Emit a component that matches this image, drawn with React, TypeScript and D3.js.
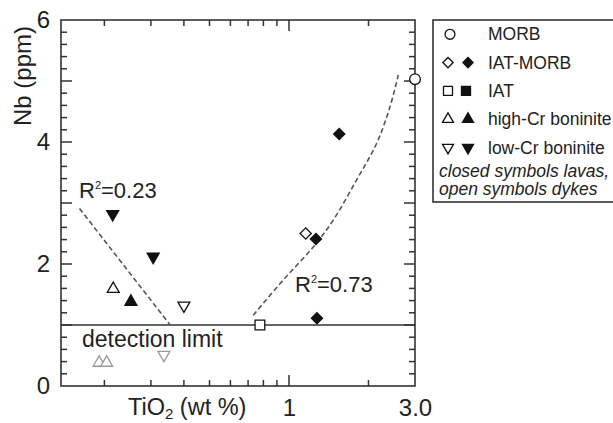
import React, { useEffect, useRef } from "react";
import * as d3 from "d3";

// TiO2 (wt %) vs Nb (ppm) values
const morbX = [3.0];
const morbY = [5.03];
const iatMorbDykeX = [1.157];
const iatMorbDykeY = [2.5];
const iatMorbLavaX = [1.55, 1.265, 1.276];
const iatMorbLavaY = [4.13, 2.41, 1.11];
const iatDykeX = [0.776];
const iatDykeY = [1.0];
const highCrDykeX = [0.216];
const highCrDykeY = [1.59];
const highCrLavaX = [0.252];
const highCrLavaY = [1.38];
const lowCrDykeX = [0.4];
const lowCrDykeY = [1.32];
const lowCrLavaX = [0.215, 0.306];
const lowCrLavaY = [2.82, 2.12];
// below detection limit (grey)
const belowHighCrX = [0.191, 0.204];
const belowHighCrY = [0.38, 0.38];
const belowLowCrX = [0.336];
const belowLowCrY = [0.51];

// regression lines
const fitLowX = [0.161, 0.355];
const fitLowY = [2.91, 1.0];
const fitHighX = [0.732, 0.952, 1.236, 1.471, 1.804, 2.148, 2.413, 2.594];
const fitHighY = [1.16, 1.74, 2.28, 2.72, 3.38, 3.98, 4.58, 5.1];

const detectionLimit = 1;

const xMinor = [0.2, 0.3, 0.4, 0.5, 0.6, 0.7, 0.8, 0.9, 2];
const xMajor = [1];
const xLabels = [1, 3];
const yMinor = [0.2, 0.4, 0.6, 0.8, 1.2, 1.4, 1.6, 1.8, 2.2, 2.4, 2.6, 2.8, 3.2, 3.4, 3.6, 3.8, 4.2, 4.4, 4.6, 4.8, 5.2, 5.4, 5.6, 5.8];
const yMajor = [1, 2, 3, 4, 5];
const yLabels = [0, 2, 4, 6];

const legendLabels = ["MORB", "IAT-MORB", "IAT", "high-Cr boninite", "low-Cr boninite"];
const legendShapes = ["circle", "diamond", "square", "up", "down"];
const legendHasClosed = [false, true, true, true, true];
const noteLines = ["closed symbols lavas,", "open symbols dykes"];

const FONT = "'Liberation Sans', Arial, Helvetica, sans-serif";
const INK = "#222";

const symbolPath = (shape: string, scale = 1) => {
  switch (shape) {
    case "circle":
      return d3.symbol(d3.symbolCircle, 90 * scale)();
    case "diamond":
      return d3.symbol(d3.symbolSquare, 62 * scale)();
    case "square":
      return d3.symbol(d3.symbolSquare, 95 * scale)();
    default:
      return d3.symbol(d3.symbolTriangle, 62 * scale)();
  }
};
const symbolRotate = (shape: string) =>
  shape === "diamond" ? 45 : shape === "down" ? 180 : 0;

export default function App() {
  const ref = useRef<SVGSVGElement>(null);

  useEffect(() => {
    const width = 613;
    const height = 423;
    const m = { top: 20, right: 198, bottom: 37, left: 61 };

    const x = d3.scaleLog([0.137, 3], [m.left, width - m.right]);
    const y = d3.scaleLinear([0, 6], [height - m.bottom, m.top]);
    const [x0, x1] = x.range();
    const [y0, y1] = y.range();

    const svg = d3.select(ref.current);
    svg.selectAll("*").remove();

    svg.append("rect").attr("width", width).attr("height", height).attr("fill", "#fff");

    // inward ticks on all four sides
    const ticks = svg.append("g").attr("stroke", "#333").attr("stroke-width", 1.5);
    const xTicks = (vals: number[], len: number) => {
      ticks.append("g").selectAll("line").data(vals).join("line")
        .attr("x1", (d) => x(d)).attr("x2", (d) => x(d))
        .attr("y1", y0).attr("y2", y0 - len);
      ticks.append("g").selectAll("line").data(vals).join("line")
        .attr("x1", (d) => x(d)).attr("x2", (d) => x(d))
        .attr("y1", y1).attr("y2", y1 + len);
    };
    const yTicks = (vals: number[], len: number) => {
      ticks.append("g").selectAll("line").data(vals).join("line")
        .attr("y1", (d) => y(d)).attr("y2", (d) => y(d))
        .attr("x1", x0).attr("x2", x0 + len);
      ticks.append("g").selectAll("line").data(vals).join("line")
        .attr("y1", (d) => y(d)).attr("y2", (d) => y(d))
        .attr("x1", x1).attr("x2", x1 - len);
    };
    xTicks(xMinor, 6);
    xTicks(xMajor, 11);
    yTicks(yMinor, 6);
    yTicks(yMajor, 11);

    // tick labels
    svg.append("g")
      .attr("transform", `translate(0,${y0})`)
      .call(d3.axisBottom(x).tickValues(xLabels).tickSize(0).tickPadding(13)
        .tickFormat((d: any) => (d === 3 ? "3.0" : String(d))))
      .call((g: any) => g.select(".domain").remove())
      .call((g: any) => g.selectAll(".tick text")
        .attr("font-size", 24).attr("font-family", FONT).attr("fill", INK));

    svg.append("g")
      .attr("transform", `translate(${x0},0)`)
      .call(d3.axisLeft(y).tickValues(yLabels).tickSize(0).tickPadding(11)
        .tickFormat((d: any) => String(d)))
      .call((g: any) => g.select(".domain").remove())
      .call((g: any) => g.selectAll(".tick text")
        .attr("font-size", 24).attr("font-family", FONT).attr("fill", INK));

    // frame
    svg.append("rect")
      .attr("x", x0).attr("y", y1)
      .attr("width", x1 - x0).attr("height", y0 - y1)
      .attr("fill", "none").attr("stroke", "#333").attr("stroke-width", 1.6);

    // detection limit
    svg.append("line")
      .attr("x1", x0).attr("x2", x1)
      .attr("y1", y(detectionLimit)).attr("y2", y(detectionLimit))
      .attr("stroke", "#333").attr("stroke-width", 1.6);

    // regression lines
    const fit = (xs: number[], ys: number[], curve: any) => {
      const line = d3.line<number>()
        .x((i) => x(xs[i]))
        .y((i) => y(ys[i]))
        .curve(curve);
      svg.append("path")
        .attr("d", line(d3.range(xs.length)))
        .attr("fill", "none")
        .attr("stroke", "#555")
        .attr("stroke-width", 1.6)
        .attr("stroke-dasharray", "5 3");
    };
    fit(fitLowX, fitLowY, d3.curveLinear);
    fit(fitHighX, fitHighY, d3.curveCatmullRom);

    // points
    const points = (xs: number[], ys: number[], shape: string, filled: boolean, color = "#111") => {
      svg.append("g")
        .selectAll("path")
        .data(d3.range(xs.length))
        .join("path")
        .attr("d", symbolPath(shape))
        .attr("transform", (i) => `translate(${x(xs[i])},${y(ys[i])}) rotate(${symbolRotate(shape)})`)
        .attr("fill", filled ? color : "#fff")
        .attr("stroke", color)
        .attr("stroke-width", 1.3);
    };
    points(belowHighCrX, belowHighCrY, "up", false, "#999");
    points(belowLowCrX, belowLowCrY, "down", false, "#999");
    points(highCrDykeX, highCrDykeY, "up", false);
    points(highCrLavaX, highCrLavaY, "up", true);
    points(lowCrDykeX, lowCrDykeY, "down", false);
    points(lowCrLavaX, lowCrLavaY, "down", true);
    points(iatDykeX, iatDykeY, "square", false);
    points(iatMorbDykeX, iatMorbDykeY, "diamond", false);
    points(iatMorbLavaX, iatMorbLavaY, "diamond", true);
    points(morbX, morbY, "circle", false);

    // annotations
    const rLabel = (px: number, py: number, value: string) => {
      const t = svg.append("text")
        .attr("x", px).attr("y", py)
        .attr("font-size", 22).attr("font-family", FONT).attr("fill", INK);
      t.append("tspan").text("R");
      t.append("tspan").attr("font-size", 11).attr("dy", -9).text("2");
      t.append("tspan").attr("dy", 9).text(`=${value}`);
    };
    rLabel(79, 198, "0.23");
    rLabel(295, 292, "0.73");

    svg.append("text")
      .attr("x", 82).attr("y", 347)
      .attr("font-size", 23).attr("font-family", FONT).attr("fill", INK)
      .text("detection limit");

    // axis titles
    const xt = svg.append("text")
      .attr("x", 128).attr("y", 415)
      .attr("font-size", 23.5).attr("font-family", FONT).attr("fill", INK);
    xt.append("tspan").text("TiO");
    xt.append("tspan").attr("font-size", 15).attr("dy", 4).text("2");
    xt.append("tspan").attr("dy", -4).text(" (wt %)");

    svg.append("text")
      .attr("transform", "translate(31,76) rotate(-90)")
      .attr("text-anchor", "middle")
      .attr("font-size", 24).attr("font-family", FONT).attr("fill", INK)
      .text("Nb (ppm)");

    // legend
    const lg = svg.append("g");
    lg.append("rect")
      .attr("x", 433).attr("y", 20).attr("width", 190).attr("height", 182)
      .attr("fill", "#fff").attr("stroke", "#333").attr("stroke-width", 1.6);

    const rowY = (i: number) => 40.3 + i * 28.3;
    legendLabels.forEach((label, i) => {
      const shape = legendShapes[i];
      const cy = rowY(i) - 6;
      lg.append("path")
        .attr("d", symbolPath(shape, 0.85))
        .attr("transform", `translate(${shape === "circle" ? 450 : 448},${cy}) rotate(${symbolRotate(shape)})`)
        .attr("fill", "#fff").attr("stroke", "#111").attr("stroke-width", 1.3);
      if (legendHasClosed[i]) {
        lg.append("path")
          .attr("d", symbolPath(shape, 0.85))
          .attr("transform", `translate(${shape === "square" ? 466 : 468},${cy}) rotate(${symbolRotate(shape)})`)
          .attr("fill", "#111").attr("stroke", "#111").attr("stroke-width", 1.3);
      }
      lg.append("text")
        .attr("x", 488).attr("y", rowY(i))
        .attr("font-size", 17.5).attr("font-family", FONT).attr("fill", INK)
        .text(label);
    });
    noteLines.forEach((line, i) => {
      lg.append("text")
        .attr("x", 439).attr("y", 176.7 + i * 18.3)
        .attr("font-size", 17.5).attr("font-style", "italic")
        .attr("font-family", FONT).attr("fill", INK)
        .text(line);
    });
  }, []);

  return (
    <svg
      ref={ref}
      width={613}
      height={423}
      style={{ position: "absolute", left: 0, top: 0, display: "block" }}
    />
  );
}
